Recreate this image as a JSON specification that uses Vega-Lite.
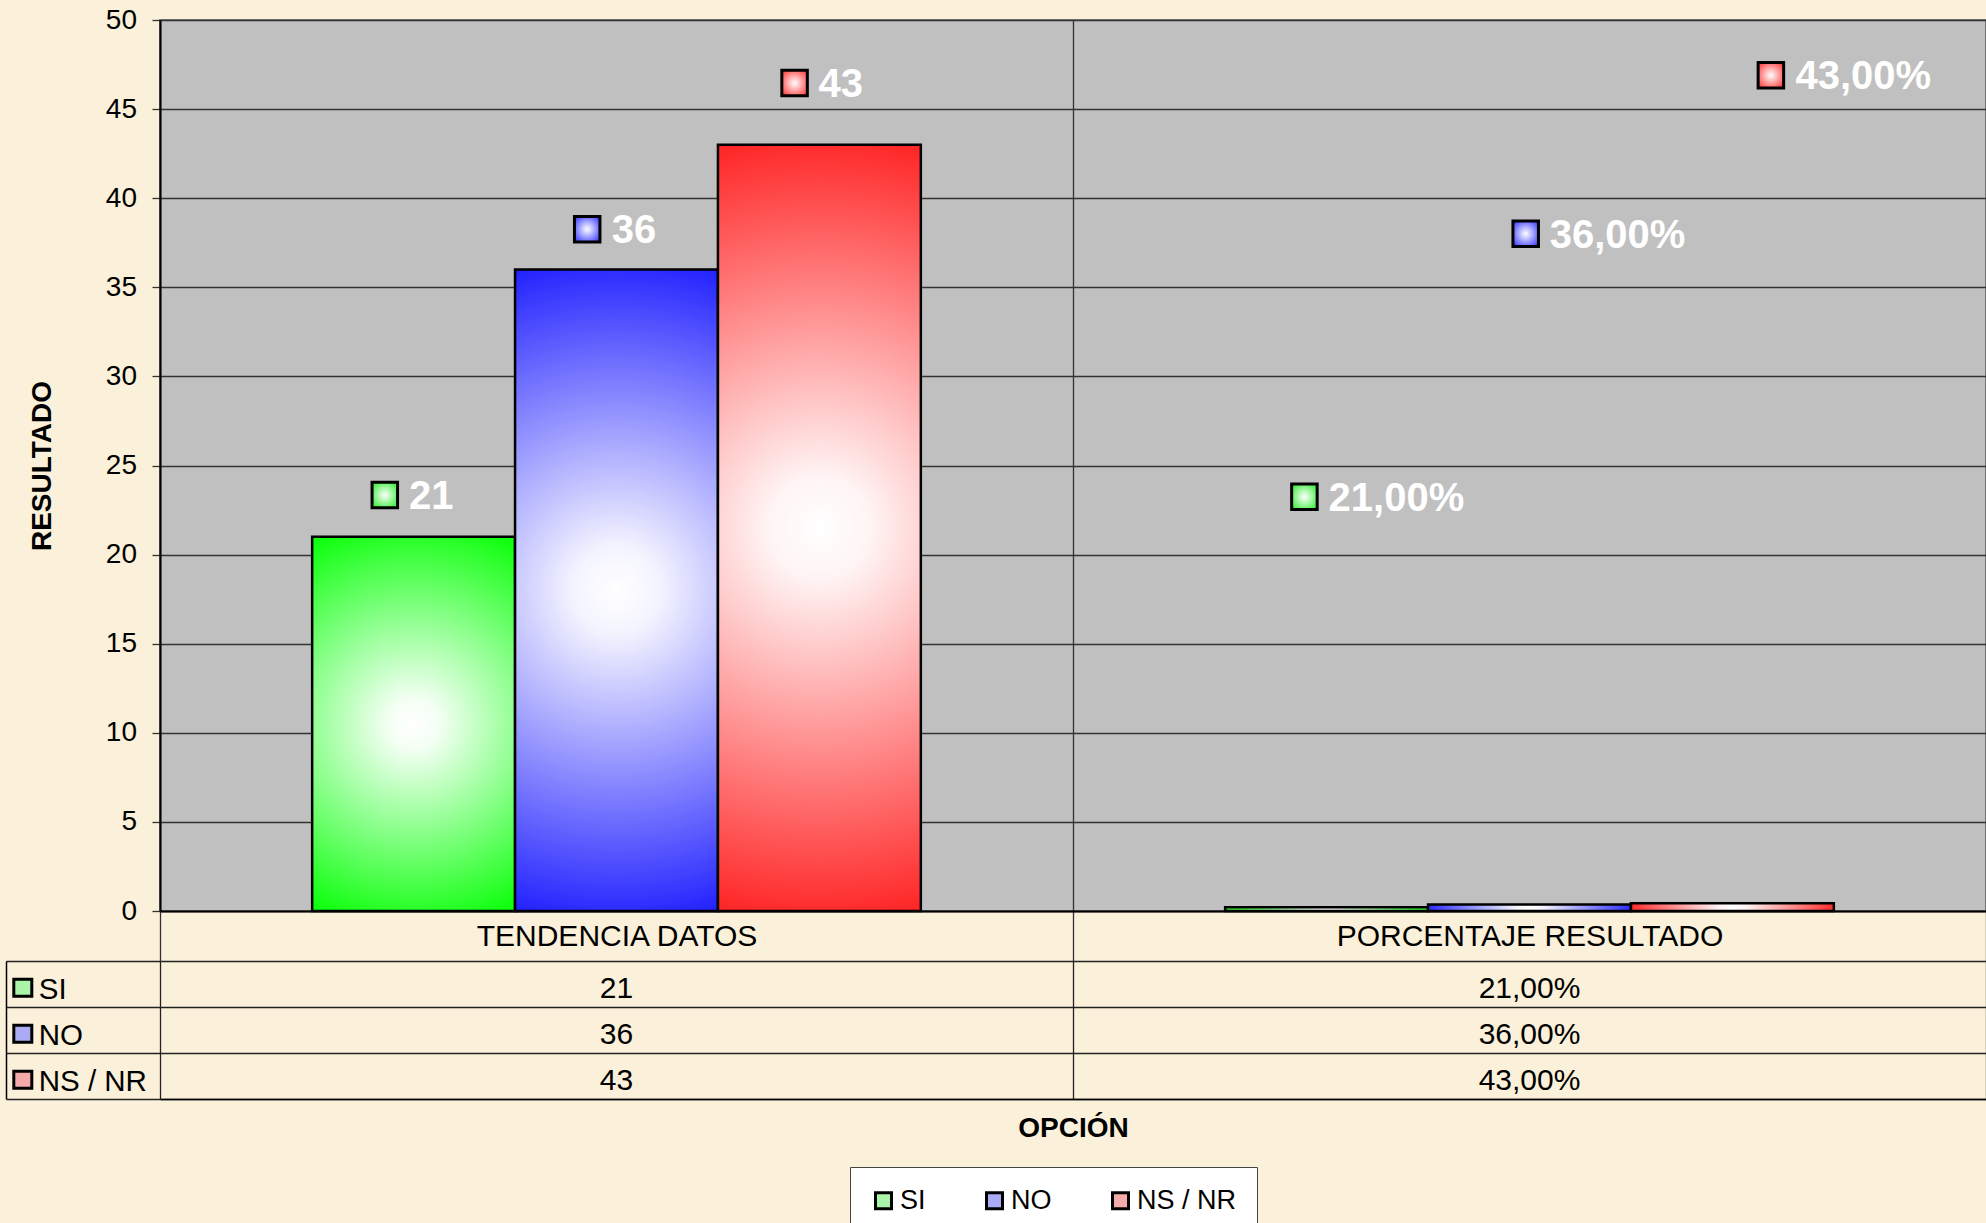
{
  "$schema": "https://vega.github.io/schema/vega-lite/v6.json",
  "background": "#FBF0D9",
  "padding": {"left": 5, "top": 5, "right": 0, "bottom": 0},
  "config": {"font": "Liberation Sans"},
  "data": {"values": [
    {"opcion": "TENDENCIA DATOS", "serie": "SI", "valor": 21, "n": 21, "texto": "21"},
    {"opcion": "TENDENCIA DATOS", "serie": "NO", "valor": 36, "n": 36, "texto": "36"},
    {"opcion": "TENDENCIA DATOS", "serie": "NS / NR", "valor": 43, "n": 43, "texto": "43"},
    {"opcion": "PORCENTAJE RESULTADO", "serie": "SI", "valor": 0.21, "n": 21, "texto": "21,00%"},
    {"opcion": "PORCENTAJE RESULTADO", "serie": "NO", "valor": 0.36, "n": 36, "texto": "36,00%"},
    {"opcion": "PORCENTAJE RESULTADO", "serie": "NS / NR", "valor": 0.43, "n": 43, "texto": "43,00%"}
  ]},
  "bounds": "flush",
  "spacing": 50,
  "vconcat": [
    {
      "width": 1826,
      "height": 891,
      "view": {"fill": "#C0C0C0", "stroke": "#808080", "strokeWidth": 2},
      "encoding": {
        "x": {
          "field": "opcion", "type": "nominal",
          "sort": ["TENDENCIA DATOS", "PORCENTAJE RESULTADO"],
          "scale": {"paddingInner": 0, "paddingOuter": 0},
          "axis": {
            "title": null, "orient": "bottom", "tickBand": "extent", "tickSize": 50, "tickColor": "#333333", "tickWidth": 1.3,
            "domainColor": "#000000", "domainWidth": 2,
            "labelFontSize": 30, "labelColor": "#000000", "labelFont": "Liberation Sans", "labelAngle": 0, "labelLimit": 0,
            "labelBaseline": "alphabetic", "labelPadding": -16,
            "grid": true, "gridColor": "#333333", "gridWidth": 1.3, "gridOpacity": 1
          }
        },
        "xOffset": {
          "field": "serie", "type": "nominal", "sort": ["SI", "NO", "NS / NR"],
          "scale": {"paddingInner": 0, "paddingOuter": 0.75}
        }
      },
      "layer": [
        {
          "mark": {"type": "bar", "stroke": "#000000", "strokeWidth": 2.5},
          "encoding": {
            "y": {
              "field": "valor", "type": "quantitative",
              "scale": {"domain": [0, 50], "nice": false, "zero": true},
              "axis": {
                "title": "RESULTADO", "titleFont": "Liberation Sans", "titleFontSize": 28, "titleFontWeight": "bold",
                "titleColor": "#000000", "titlePadding": 49,
                "values": [0, 5, 10, 15, 20, 25, 30, 35, 40, 45, 50],
                "labelFontSize": 28, "labelFont": "Liberation Sans", "labelColor": "#000000", "labelPadding": 15.5,
                "tickSize": 8, "tickColor": "#333333", "tickWidth": 1.3,
                "domainColor": "#000000", "domainWidth": 2,
                "grid": true, "gridColor": "#333333", "gridOpacity": 1, "gridWidth": 1.3
              }
            },
            "fill": {
              "condition": [
                {"test": "datum.serie === 'SI'", "value": {"gradient": "radial", "x1": 0.5, "y1": 0.5, "r1": 0, "x2": 0.5, "y2": 0.5, "r2": 0.55,
                  "stops": [{"offset": 0, "color": "#ffffff"}, {"offset": 0.12, "color": "#f4fff4"}, {"offset": 1, "color": "#10ff10"}]}},
                {"test": "datum.serie === 'NO'", "value": {"gradient": "radial", "x1": 0.5, "y1": 0.5, "r1": 0, "x2": 0.5, "y2": 0.5, "r2": 0.55,
                  "stops": [{"offset": 0, "color": "#ffffff"}, {"offset": 0.12, "color": "#f4f4ff"}, {"offset": 1, "color": "#1515ff"}]}}
              ],
              "value": {"gradient": "radial", "x1": 0.5, "y1": 0.5, "r1": 0, "x2": 0.5, "y2": 0.5, "r2": 0.55,
                "stops": [{"offset": 0, "color": "#ffffff"}, {"offset": 0.12, "color": "#fff4f4"}, {"offset": 1, "color": "#ff1515"}]}
            }
          }
        },
        {
          "transform": [{"filter": "datum.opcion === 'TENDENCIA DATOS' && datum.serie === 'SI'"}],
          "mark": {"type": "text", "align": "left", "baseline": "alphabetic", "dx": -4.5, "dy": -27.5, "font": "Liberation Sans", "fontSize": 40, "fontWeight": "bold", "color": "#ffffff"},
          "encoding": {"y": {"field": "n", "type": "quantitative", "title": "RESULTADO"}, "text": {"field": "texto"}}
        },
        {
          "transform": [{"filter": "datum.opcion === 'TENDENCIA DATOS' && datum.serie === 'NO'"}],
          "mark": {"type": "text", "align": "left", "baseline": "alphabetic", "dx": -4.8, "dy": -26.6, "font": "Liberation Sans", "fontSize": 40, "fontWeight": "bold", "color": "#ffffff"},
          "encoding": {"y": {"field": "n", "type": "quantitative", "title": "RESULTADO"}, "text": {"field": "texto"}}
        },
        {
          "transform": [{"filter": "datum.opcion === 'TENDENCIA DATOS' && datum.serie === 'NS / NR'"}],
          "mark": {"type": "text", "align": "left", "baseline": "alphabetic", "dx": -1, "dy": -47.7, "font": "Liberation Sans", "fontSize": 40, "fontWeight": "bold", "color": "#ffffff"},
          "encoding": {"y": {"field": "n", "type": "quantitative", "title": "RESULTADO"}, "text": {"field": "texto"}}
        },
        {
          "transform": [{"filter": "datum.opcion === 'PORCENTAJE RESULTADO' && datum.serie === 'SI'"}],
          "mark": {"type": "text", "align": "left", "baseline": "alphabetic", "dx": 2, "dy": -26.2, "font": "Liberation Sans", "fontSize": 40, "fontWeight": "bold", "color": "#ffffff"},
          "encoding": {"y": {"field": "n", "type": "quantitative", "title": "RESULTADO"}, "text": {"field": "texto"}}
        },
        {
          "transform": [{"filter": "datum.opcion === 'PORCENTAJE RESULTADO' && datum.serie === 'NO'"}],
          "mark": {"type": "text", "align": "left", "baseline": "alphabetic", "dx": 20.2, "dy": -21.6, "font": "Liberation Sans", "fontSize": 40, "fontWeight": "bold", "color": "#ffffff"},
          "encoding": {"y": {"field": "n", "type": "quantitative", "title": "RESULTADO"}, "text": {"field": "texto"}}
        },
        {
          "transform": [{"filter": "datum.opcion === 'PORCENTAJE RESULTADO' && datum.serie === 'NS / NR'"}],
          "mark": {"type": "text", "align": "left", "baseline": "alphabetic", "dx": 63, "dy": -55.7, "font": "Liberation Sans", "fontSize": 40, "fontWeight": "bold", "color": "#ffffff"},
          "encoding": {"y": {"field": "n", "type": "quantitative", "title": "RESULTADO"}, "text": {"field": "texto"}}
        },
        {
          "transform": [{"filter": "datum.opcion === 'TENDENCIA DATOS' && datum.serie === 'SI'"}],
          "mark": {"type": "point", "shape": "M-4.155,-5.455H-1.605V-2.905H-4.155Z", "size": 400, "filled": true, "opacity": 1, "fillOpacity": 1, "strokeOpacity": 1, "stroke": "#000000", "strokeWidth": 3,
            "fill": {"gradient": "radial", "x1": 0.5, "y1": 0.5, "r1": 0, "x2": 0.5, "y2": 0.5, "r2": 0.6, "stops": [{"offset": 0, "color": "#ffffff"}, {"offset": 1, "color": "#40ee40"}]}},
          "encoding": {"y": {"field": "n", "type": "quantitative", "title": "RESULTADO"}}
        },
        {
          "transform": [{"filter": "datum.opcion === 'TENDENCIA DATOS' && datum.serie === 'NO'"}],
          "mark": {"type": "point", "shape": "M-4.205,-5.305H-1.655V-2.755H-4.205Z", "size": 400, "filled": true, "opacity": 1, "fillOpacity": 1, "strokeOpacity": 1, "stroke": "#000000", "strokeWidth": 3,
            "fill": {"gradient": "radial", "x1": 0.5, "y1": 0.5, "r1": 0, "x2": 0.5, "y2": 0.5, "r2": 0.6, "stops": [{"offset": 0, "color": "#ffffff"}, {"offset": 1, "color": "#4848ff"}]}},
          "encoding": {"y": {"field": "n", "type": "quantitative", "title": "RESULTADO"}}
        },
        {
          "transform": [{"filter": "datum.opcion === 'TENDENCIA DATOS' && datum.serie === 'NS / NR'"}],
          "mark": {"type": "point", "shape": "M-3.755,-7.445H-1.205V-4.895H-3.755Z", "size": 400, "filled": true, "opacity": 1, "fillOpacity": 1, "strokeOpacity": 1, "stroke": "#000000", "strokeWidth": 3,
            "fill": {"gradient": "radial", "x1": 0.5, "y1": 0.5, "r1": 0, "x2": 0.5, "y2": 0.5, "r2": 0.6, "stops": [{"offset": 0, "color": "#ffffff"}, {"offset": 1, "color": "#ff4848"}]}},
          "encoding": {"y": {"field": "n", "type": "quantitative", "title": "RESULTADO"}}
        },
        {
          "transform": [{"filter": "datum.opcion === 'PORCENTAJE RESULTADO' && datum.serie === 'SI'"}],
          "mark": {"type": "point", "shape": "M-3.495,-5.275H-0.945V-2.725H-3.495Z", "size": 400, "filled": true, "opacity": 1, "fillOpacity": 1, "strokeOpacity": 1, "stroke": "#000000", "strokeWidth": 3,
            "fill": {"gradient": "radial", "x1": 0.5, "y1": 0.5, "r1": 0, "x2": 0.5, "y2": 0.5, "r2": 0.6, "stops": [{"offset": 0, "color": "#ffffff"}, {"offset": 1, "color": "#40ee40"}]}},
          "encoding": {"y": {"field": "n", "type": "quantitative", "title": "RESULTADO"}}
        },
        {
          "transform": [{"filter": "datum.opcion === 'PORCENTAJE RESULTADO' && datum.serie === 'NO'"}],
          "mark": {"type": "point", "shape": "M-1.655,-4.855H0.895V-2.305H-1.655Z", "size": 400, "filled": true, "opacity": 1, "fillOpacity": 1, "strokeOpacity": 1, "stroke": "#000000", "strokeWidth": 3,
            "fill": {"gradient": "radial", "x1": 0.5, "y1": 0.5, "r1": 0, "x2": 0.5, "y2": 0.5, "r2": 0.6, "stops": [{"offset": 0, "color": "#ffffff"}, {"offset": 1, "color": "#4848ff"}]}},
          "encoding": {"y": {"field": "n", "type": "quantitative", "title": "RESULTADO"}}
        },
        {
          "transform": [{"filter": "datum.opcion === 'PORCENTAJE RESULTADO' && datum.serie === 'NS / NR'"}],
          "mark": {"type": "point", "shape": "M2.575,-8.225H5.125V-5.675H2.575Z", "size": 400, "filled": true, "opacity": 1, "fillOpacity": 1, "strokeOpacity": 1, "stroke": "#000000", "strokeWidth": 3,
            "fill": {"gradient": "radial", "x1": 0.5, "y1": 0.5, "r1": 0, "x2": 0.5, "y2": 0.5, "r2": 0.6, "stops": [{"offset": 0, "color": "#ffffff"}, {"offset": 1, "color": "#ff4848"}]}},
          "encoding": {"y": {"field": "n", "type": "quantitative", "title": "RESULTADO"}}
        }
      ]
    },
    {
      "width": 1826,
      "height": 138,
      "view": {"stroke": null},
      "encoding": {
        "x": {
          "field": "opcion", "type": "nominal",
          "sort": ["TENDENCIA DATOS", "PORCENTAJE RESULTADO"],
          "scale": {"paddingInner": 0, "paddingOuter": 0},
          "axis": {
            "title": "OPCIÓN", "titleFont": "Liberation Sans", "titleFontSize": 28, "titleFontWeight": "bold", "titleColor": "#000000", "titlePadding": 15,
            "orient": "bottom", "labels": false, "ticks": false, "tickBand": "extent",
            "domainColor": "#000000", "domainWidth": 1.5,
            "grid": true, "gridColor": "#222222", "gridWidth": 1.3, "gridOpacity": 1
          }
        },
        "y": {
          "field": "serie", "type": "nominal", "sort": ["SI", "NO", "NS / NR"],
          "scale": {"paddingInner": 0, "paddingOuter": 0},
          "axis": {
            "title": null, "orient": "left", "offset": 154,
            "domainColor": "#000000", "domainWidth": 1.5,
            "tickBand": "extent", "tickSize": -154, "tickColor": "#222222", "tickWidth": 1.3,
            "labelAlign": "left", "labelBaseline": "middle", "labelPadding": 121.8, "labelOffset": 5,
            "labelFont": "Liberation Sans", "labelFontSize": 29.5, "labelColor": "#000000",
            "grid": true, "gridColor": "#222222", "gridWidth": 1.3, "gridOpacity": 1
          }
        }
      },
      "layer": [
        {
          "mark": {"type": "text", "font": "Liberation Sans", "fontSize": 30, "color": "#000000", "baseline": "middle", "dy": 5},
          "encoding": {"text": {"field": "texto"}}
        },
        {
          "transform": [{"filter": "datum.opcion === 'TENDENCIA DATOS'"}],
          "mark": {"type": "point", "shape": "M-29.24,-0.96H-25.64V2.44H-29.24Z", "size": 100, "filled": true, "opacity": 1, "fillOpacity": 1, "strokeOpacity": 1, "stroke": "#000000", "strokeWidth": 3},
          "encoding": {
            "x": {"field": "opcion", "type": "nominal", "sort": ["TENDENCIA DATOS", "PORCENTAJE RESULTADO"], "bandPosition": 0},
            "fill": {
              "field": "serie", "type": "nominal", "sort": ["SI", "NO", "NS / NR"],
              "scale": {"domain": ["SI", "NO", "NS / NR"], "range": ["#aaf5aa", "#aaaaf5", "#f5aaaa"]},
              "legend": {
                "title": null, "orient": "none", "legendX": 690, "legendY": 1147, "direction": "horizontal", "symbolType": "square", "symbolSize": 256,
                "symbolStrokeColor": "#000000", "symbolStrokeWidth": 3, "symbolOpacity": 1,
                "labelFont": "Liberation Sans", "labelFontSize": 27, "labelColor": "#000000",
                "columnPadding": 54, "labelOffset": 3, "padding": 20,
                "fillColor": "#ffffff", "strokeColor": "#444444"
              }
            }
          }
        }
      ]
    }
  ]
}
